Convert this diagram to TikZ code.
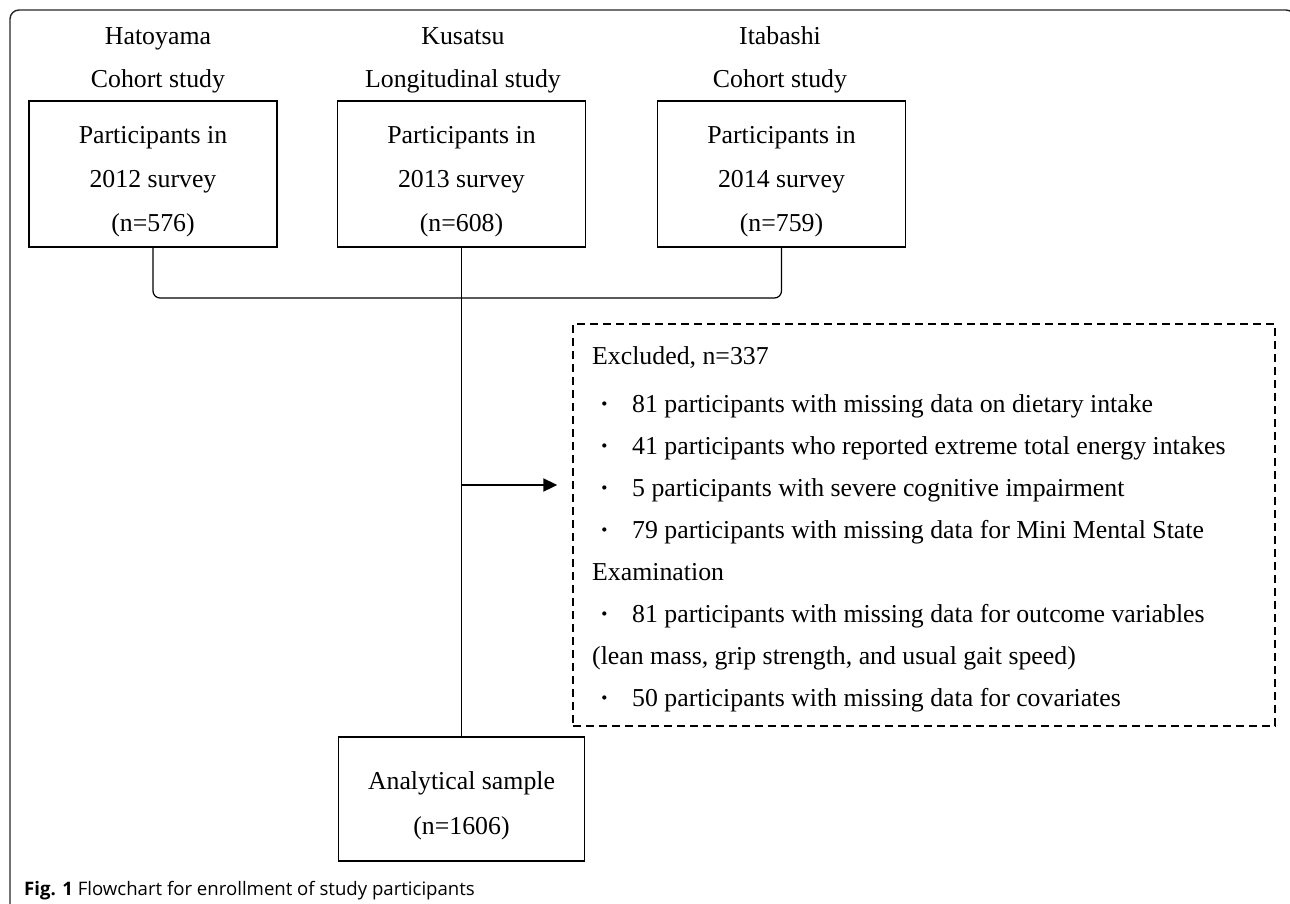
\documentclass[tikz,border=0pt]{standalone}
\usepackage{fontspec}
\setmainfont{Liberation Serif}
\newfontfamily\capfont{Open Sans}
\usetikzlibrary{arrows.meta}
\begin{document}
\begin{tikzpicture}[x=1pt,y=-1pt,
 frame/.style={draw=black!85, line width=1.4pt, rounded corners=9pt},
 boxnode/.style={draw, line width=1.4pt, minimum width=248pt, minimum height=146pt, inner sep=0pt},
 anbox/.style={draw, line width=1.4pt, minimum width=246pt, minimum height=124pt, inner sep=0pt},
 boxtext/.style={align=center, font=\fontsize{25.8}{44}\selectfont, inner sep=0pt},
 ttl/.style={align=center, font=\fontsize{25.8}{43}\selectfont, inner sep=0pt},
 exbox/.style={draw, dash pattern=on 8pt off 5pt, line width=1.4pt, minimum width=702pt, minimum height=402pt, inner sep=0pt},
 extext/.style={align=left, font=\fontsize{25.8}{42.1}\selectfont, inner sep=0pt, anchor=north west},
 conn/.style={line width=1.2pt},
 arr/.style={line width=2pt, -{Triangle[length=14pt,width=13pt]}},
 captext/.style={font=\capfont\fontsize{18.6}{22}\selectfont, anchor=west, inner sep=0pt}
]
\useasboundingbox (0,0) rectangle (1290,904);
\newcommand{\bul}{\makebox[40pt][l]{\hspace{8pt}\textbf{·}}}
\draw[frame] (10,10) rectangle (1295,930);
% titles
\node[ttl] (t1) at (158,60) {Hatoyama\\Cohort study};
\node[ttl] (t2) at (463,60) {Kusatsu\\Longitudinal study};
\node[ttl] (t3) at (780,60) {Itabashi\\Cohort study};
% boxes
\node[boxnode] (b1) at (153,174) {};
\node[boxnode] (b2) at (461.5,174) {};
\node[boxnode] (b3) at (781.5,174) {};
\node[boxtext] (b1t) at (153,182) {Participants in\\2012 survey\\(n=576)};
\node[boxtext] (b2t) at (461.5,182) {Participants in\\2013 survey\\(n=608)};
\node[boxtext] (b3t) at (781.5,182) {Participants in\\2014 survey\\(n=759)};
% exclusion box
\node[exbox] (ex) at (924,525) {};
\node[extext] (ext) at (592,346) {Excluded, n=337\\[6pt]
\bul 81 participants with missing data on dietary intake\\
\bul 41 participants who reported extreme total energy intakes\\
\bul 5 participants with severe cognitive impairment\\
\bul 79 participants with missing data for Mini Mental State\\
Examination\\
\bul 81 participants with missing data for outcome variables\\
(lean mass, grip strength, and usual gait speed)\\
\bul 50 participants with missing data for covariates};
% analytical sample
\node[anbox] (an) at (461.5,799) {};
\node[boxtext, font=\fontsize{25.8}{45}\selectfont] (ant) at (461.5,806) {Analytical sample\\(n=1606)};
% connectors
\coordinate (j) at (461.5,298);
\draw[conn, rounded corners=7pt] (b1.south) |- (j) -| (b3.south);
\draw[conn] (b2.south) -- (an.north);
\coordinate (a0) at (461.5,485);
\coordinate (a1) at ([xshift=-15pt]ex.west |- a0);
\draw[arr] (a0) -- (a1);
% caption
\node[captext] (cap) at (24,891) {\textbf{Fig. 1} Flowchart for enrollment of study participants};
\end{tikzpicture}
\end{document}
